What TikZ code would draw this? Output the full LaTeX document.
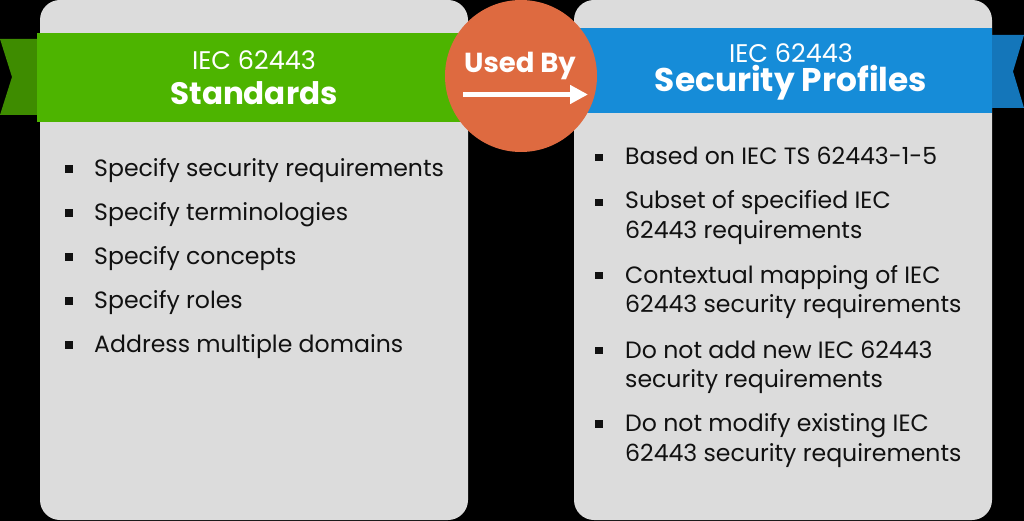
\documentclass[tikz,border=0pt]{standalone}
\usepackage{fontspec}
\setmainfont{Poppins}
\usetikzlibrary{arrows.meta}

\definecolor{panelgray}{HTML}{DCDCDC}
\definecolor{greenband}{HTML}{4DB400}
\definecolor{greentail}{HTML}{3E8C00}
\definecolor{blueband}{HTML}{168CD8}
\definecolor{bluetail}{HTML}{1476BA}
\definecolor{usedorange}{HTML}{DE6A40}
\definecolor{textblack}{HTML}{111111}

\begin{document}
\begin{tikzpicture}[
  x=1pt, y=-1pt,
  panel/.style={fill=panelgray, rounded corners=20pt, minimum height=520pt, inner sep=0pt},
  band/.style={inner sep=0pt, outer sep=0pt},
  item/.style={anchor=base west, inner sep=0pt, align=left, text=textblack,
               font=\fontsize{23.6}{29.3}\selectfont},
  sq/.style={fill=textblack, minimum size=7.5pt, inner sep=0pt},
  thin/.style={text=white, inner sep=0pt, anchor=base, font=\fontsize{25.5}{28}\selectfont},
  heavy/.style={text=white, inner sep=0pt, anchor=base, font=\fontsize{31}{36}\bfseries}
]
  \fill[black] (0,0) rectangle (1024,521);
  \useasboundingbox (0,0) rectangle (1024,521);

  %--- Panels ---
  \node[panel, minimum width=428pt] (lpanel) at (254,260) {};
  \node[panel, minimum width=418pt] (rpanel) at (783,260) {};

  %--- Ribbons ---
  \fill[greentail] (0,39) -- (37,39) -- (37,115) -- (0,115) -- (12,77) -- cycle;
  \node[band, fill=greenband, minimum width=453pt, minimum height=89pt] (gband) at (263.5,77.5) {};
  \fill[bluetail] (992,35) -- (1024,35) -- (1013,71.5) -- (1024,108) -- (992,108) -- cycle;
  \node[band, fill=blueband, minimum width=442pt, minimum height=85pt] (bband) at (771,70.5) {};

  \node[thin]  (ltop)   at (254,70)   {IEC 62443};
  \node[heavy] (ltitle) at (254,105)  {Standards};
  \node[thin]  (rtop)   at (791,62.7) {IEC 62443};
  \node[heavy, font=\fontsize{32.8}{36}\bfseries] (rtitle) at (791,91.7) {Security Profiles};

  %--- Used By ---
  \node[circle, fill=usedorange, minimum size=152pt, inner sep=0pt] (usedby) at (521,76) {};
  \node[text=white, inner sep=0pt, anchor=base, font=\fontsize{27.5}{30}\bfseries] (ubtext) at (520,72.7) {Used By};
  \coordinate (arrs) at (463,94.5);
  \coordinate (arre) at (588,94.5);
  \draw[white, line width=5.5pt, -{Triangle[length=18pt, width=18pt]}] (arrs) -- (arre);

  %--- Left items ---
  \foreach \t [count=\i] in {Specify security requirements, Specify terminologies,
      Specify concepts, Specify roles, Address multiple domains} {
    \node[sq] (lb\i) at (69,132.5+44*\i-7.7) {};
    \node[item] (li\i) at (94,132.5+44*\i) {\t};
  }

  %--- Right items (anchored on last line) ---
  \node[item] (ri1) at (625,165)   {Based on IEC TS 62443-1-5};
  \node[item] (ri2) at (625,238.3) {Subset of specified IEC\\62443 requirements};
  \node[item] (ri3) at (625,312.7) {Contextual mapping of IEC\\62443 security requirements};
  \node[item] (ri4) at (625,387.3) {Do not add new IEC 62443\\security requirements};
  \node[item] (ri5) at (625,461)   {Do not modify existing IEC\\62443 security requirements};
  \node[sq] (rb1) at (599,157.3) {};
  \node[sq] (rb2) at (599,202.3) {};
  \node[sq] (rb3) at (599,275.6) {};
  \node[sq] (rb4) at (599,350.6) {};
  \node[sq] (rb5) at (599,424)   {};
\end{tikzpicture}
\end{document}
